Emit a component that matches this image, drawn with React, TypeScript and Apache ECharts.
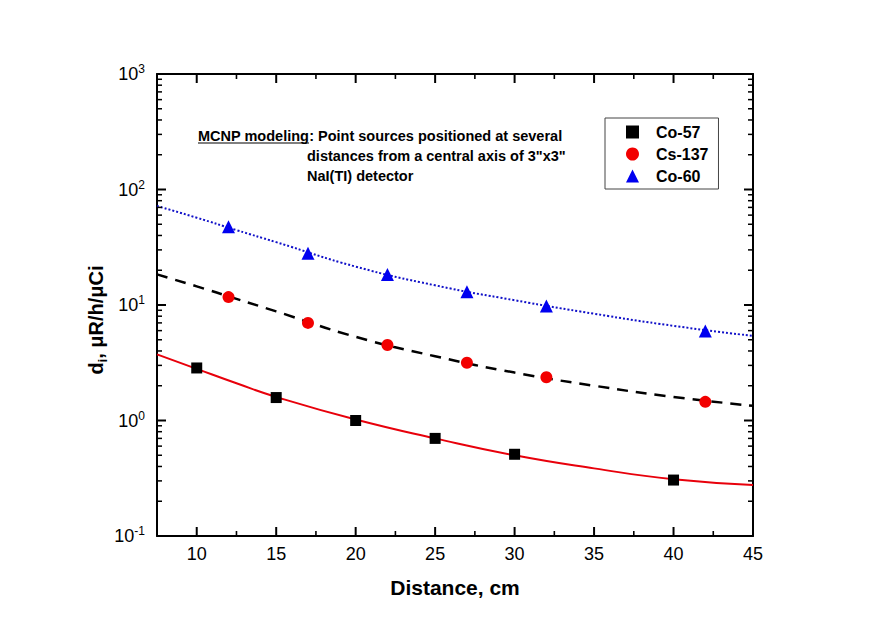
import React, { useEffect, useRef } from "react";
import * as echarts from "echarts";

// ---- axis ticks / labels ----
const xTickLabels = [10, 15, 20, 25, 30, 35, 40, 45];
const xMinorTicks = [12.5, 17.5, 22.5, 27.5, 32.5, 37.5, 42.5];
const yDecades = [0.1, 1, 10, 100, 1000];
const yDecadeExponents = ["-1", "0", "1", "2", "3"];
const yMinorTicks = [
  0.2, 0.3, 0.4, 0.5, 0.6, 0.7, 0.8, 0.9,
  2, 3, 4, 5, 6, 7, 8, 9,
  20, 30, 40, 50, 60, 70, 80, 90,
  200, 300, 400, 500, 600, 700, 800, 900,
];

// ---- measured points ----
const co57X = [10, 15, 20, 25, 30, 40];
const co57Y = [2.85, 1.58, 1.0, 0.7, 0.51, 0.305];
const cs137X = [12, 17, 22, 27, 32, 42];
const cs137Y = [11.7, 7.0, 4.5, 3.16, 2.37, 1.45];
const co60X = [12, 17, 22, 27, 32, 42];
const co60Y = [47.6, 28.0, 18.4, 13.0, 9.8, 5.96];

// ---- fitted curves ----
const fitX = [7.5, 10, 12.5, 15, 20, 25, 30, 35, 40, 45];
const co57FitY = [3.74, 2.8, 2.1, 1.6, 1.02, 0.7, 0.5, 0.385, 0.31, 0.277];
const cs137FitY = [18.4, 14.5, 11.3, 8.8, 5.3, 3.6, 2.6, 2.0, 1.6, 1.34];
const co60FitY = [72, 57, 44.5, 35, 21.5, 14.8, 11.0, 8.4, 6.6, 5.4];

const X_MIN = 7.5;
const X_MAX = 45;
const Y_MIN = 0.1;
const Y_MAX = 1000;

const FONT = "Arial, 'Liberation Sans', Helvetica, sans-serif";
const MAJOR_LEN = 9;
const MINOR_LEN = 5;

const pairs = (xs: number[], ys: number[]) => xs.map((x, i) => [x, ys[i]]);

export default function App() {
  const ref = useRef<HTMLDivElement>(null);

  useEffect(() => {
    if (!ref.current) return;
    const chart = echarts.init(ref.current, null, { renderer: "svg" });

    const xBase = { type: "value", min: X_MIN, max: X_MAX, interval: 2.5, splitLine: { show: false }, axisTick: { show: false } };
    const yBase = { type: "log", logBase: 10, min: Y_MIN, max: Y_MAX, splitLine: { show: false }, axisTick: { show: false }, minorTick: { show: false } };
    const mkLine = () => ({ show: true, onZero: false, lineStyle: { color: "#000", width: 2 } });

    // one item per tick mark: [x, y, length, side]; side 0 = bottom/left, 1 = top/right
    const xTickData: number[][] = [];
    for (const side of [0, 1]) {
      xTickLabels.forEach((v) => xTickData.push([v, Y_MIN, MAJOR_LEN, side]));
      xMinorTicks.forEach((v) => xTickData.push([v, Y_MIN, MINOR_LEN, side]));
    }
    const yTickData: number[][] = [];
    for (const side of [0, 1]) {
      yDecades.forEach((v) => yTickData.push([X_MIN, v, MAJOR_LEN, side]));
      yMinorTicks.forEach((v) => yTickData.push([X_MIN, v, MINOR_LEN, side]));
    }

    const option: any = {
      animation: false,
      grid: { left: 157, right: 122, top: 74, bottom: 107 },
      xAxis: [
        {
          ...xBase, position: "bottom",
          axisLine: mkLine(),
          axisLabel: { show: true, customValues: xTickLabels, fontSize: 18, color: "#000", fontFamily: FONT, margin: 9 },
        },
        {
          ...xBase, position: "top",
          axisLine: mkLine(),
          axisLabel: { show: false },
        },
      ],
      yAxis: [
        {
          ...yBase, position: "left",
          axisLine: mkLine(),
          axisLabel: {
            show: true,
            customValues: yDecades,
            margin: 12,
            formatter: (v: number) => {
              const i = yDecades.findIndex((d) => Math.abs(d - v) / d < 1e-6);
              return `{b|10}{s|${i >= 0 ? yDecadeExponents[i] : ""}}`;
            },
            rich: {
              b: { fontSize: 18, lineHeight: 22, color: "#000", fontFamily: FONT },
              s: { fontSize: 12, lineHeight: 12, verticalAlign: "top", color: "#000", fontFamily: FONT },
            },
          },
        },
        {
          ...yBase, position: "right",
          axisLine: mkLine(),
          axisLabel: { show: false },
        },
      ],
      legend: {
        data: ["Co-57", "Cs-137", "Co-60"],
        orient: "vertical",
        left: 605,
        top: 118,
        padding: [6, 10, 5, 21],
        itemWidth: 13,
        itemHeight: 13,
        itemGap: 6,
        borderColor: "#444",
        borderWidth: 1,
        borderRadius: 0,
        selectedMode: false,
        textStyle: { fontSize: 16, fontWeight: "bold", color: "#000", fontFamily: FONT, padding: [0, 0, 0, 12] },
      },
      series: [
        {
          name: "x ticks", type: "custom", xAxisIndex: 0, yAxisIndex: 0, silent: true, z: 5,
          data: xTickData,
          renderItem: (params: any, api: any) => {
            const px = api.coord([api.value(0), api.value(1)])[0];
            const len = api.value(2);
            const side = api.value(3);
            const cs = params.coordSys;
            const y0 = side === 0 ? cs.y + cs.height : cs.y;
            const y1 = side === 0 ? y0 - len : y0 + len;
            return {
              type: "line",
              shape: { x1: px, y1: y0, x2: px, y2: y1 },
              style: { stroke: "#000", lineWidth: len === MAJOR_LEN ? 2 : 1.6 },
            };
          },
        },
        {
          name: "y ticks", type: "custom", xAxisIndex: 0, yAxisIndex: 0, silent: true, z: 5,
          data: yTickData,
          renderItem: (params: any, api: any) => {
            const py = api.coord([api.value(0), api.value(1)])[1];
            const len = api.value(2);
            const side = api.value(3);
            const cs = params.coordSys;
            const x0 = side === 0 ? cs.x : cs.x + cs.width;
            const x1 = side === 0 ? x0 + len : x0 - len;
            return {
              type: "line",
              shape: { x1: x0, y1: py, x2: x1, y2: py },
              style: { stroke: "#000", lineWidth: len === MAJOR_LEN ? 2 : 1.5 },
            };
          },
        },
        {
          name: "Co-57 fit", type: "line", smooth: true, showSymbol: false, symbol: "none",
          xAxisIndex: 0, yAxisIndex: 0,
          data: pairs(fitX, co57FitY),
          lineStyle: { color: "#e8000b", width: 2, type: "solid" },
          z: 2,
        },
        {
          name: "Cs-137 fit", type: "line", smooth: true, showSymbol: false, symbol: "none",
          xAxisIndex: 0, yAxisIndex: 0,
          data: pairs(fitX, cs137FitY),
          lineStyle: { color: "#000", width: 2.5, type: [11, 8] },
          z: 2,
        },
        {
          name: "Co-60 fit", type: "line", smooth: true, showSymbol: false, symbol: "none",
          xAxisIndex: 0, yAxisIndex: 0,
          data: pairs(fitX, co60FitY),
          lineStyle: { color: "#1010c8", width: 2, type: [2, 2] },
          z: 2,
        },
        {
          name: "Co-57", type: "scatter", symbol: "rect", symbolSize: 11,
          xAxisIndex: 0, yAxisIndex: 0,
          data: pairs(co57X, co57Y),
          itemStyle: { color: "#000", opacity: 1 },
          z: 3,
        },
        {
          name: "Cs-137", type: "scatter", symbol: "circle", symbolSize: 12,
          xAxisIndex: 0, yAxisIndex: 0,
          data: pairs(cs137X, cs137Y),
          itemStyle: { color: "#f20000", opacity: 1 },
          z: 3,
        },
        {
          name: "Co-60", type: "scatter", symbol: "triangle", symbolSize: 13,
          xAxisIndex: 0, yAxisIndex: 0,
          data: pairs(co60X, co60Y),
          itemStyle: { color: "#0000f0", opacity: 1 },
          z: 3,
        },
      ],
      graphic: [
        {
          type: "text", x: 198, y: 135.5,
          style: {
            text: "{u|MCNP modeling}{n|: Point sources positioned at several}",
            verticalAlign: "middle",
            rich: {
              u: { fontSize: 14.5, fontWeight: "bold", fill: "#000", fontFamily: FONT },
              n: { fontSize: 14.5, fontWeight: "bold", fill: "#000", fontFamily: FONT },
            },
          },
        },
        {
          type: "line",
          shape: { x1: 198, y1: 143, x2: 309, y2: 143 },
          style: { stroke: "#000", lineWidth: 1.2 },
        },
        {
          type: "text", x: 307, y: 155.5,
          style: {
            text: 'distances from a central axis of 3"x3"',
            fontSize: 14.5, fontWeight: "bold", fill: "#000", fontFamily: FONT, verticalAlign: "middle",
          },
        },
        {
          type: "text", x: 307, y: 175.5,
          style: {
            text: "NaI(TI) detector",
            fontSize: 14.5, fontWeight: "bold", fill: "#000", fontFamily: FONT, verticalAlign: "middle",
          },
        },
        {
          type: "text", x: 455, y: 587,
          style: {
            text: "Distance, cm",
            fontSize: 21, fontWeight: "bold", fill: "#000", fontFamily: FONT,
            align: "center", verticalAlign: "middle",
          },
        },
        {
          type: "text", x: 96, y: 320, rotation: Math.PI / 2,
          style: {
            text: "{b|d}{sub|i}{b|, \u03bcR/h/\u03bcCi}",
            align: "center",
            verticalAlign: "middle",
            rich: {
              b: { fontSize: 20, lineHeight: 26, fontWeight: "bold", fill: "#000", fontFamily: FONT, verticalAlign: "middle" },
              sub: { fontSize: 13, lineHeight: 13, fontWeight: "bold", fill: "#000", fontFamily: FONT, verticalAlign: "bottom" },
            },
          },
        },
      ],
    };

    chart.setOption(option);
    return () => chart.dispose();
  }, []);

  return (
    <div
      ref={ref}
      style={{ position: "absolute", left: 0, top: 0, width: 875, height: 643 }}
    />
  );
}
